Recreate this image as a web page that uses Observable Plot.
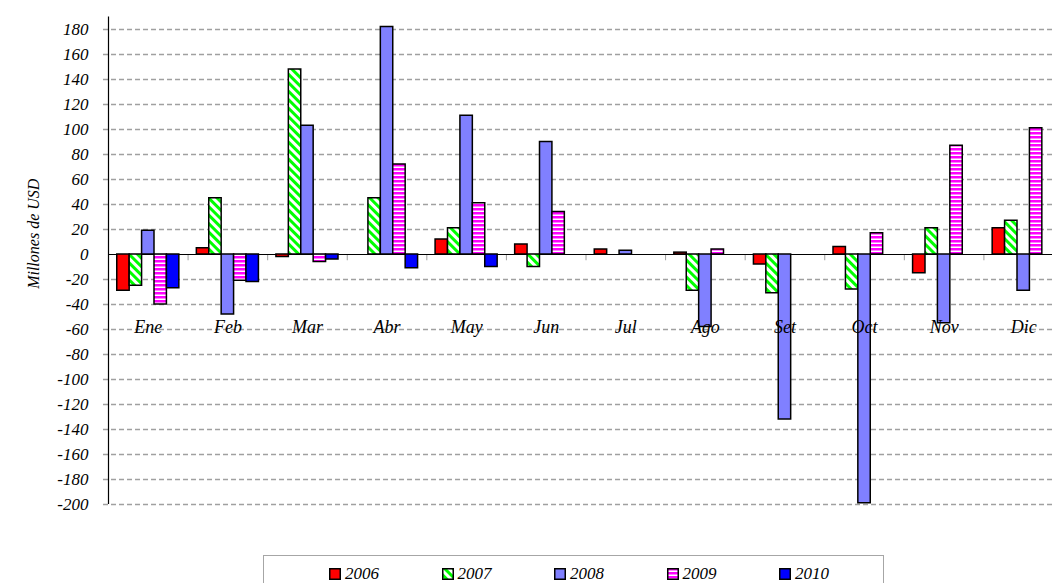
<!DOCTYPE html>
<html>
<head>
<meta charset="utf-8">
<script src="https://cdn.jsdelivr.net/npm/d3@7"></script>
<script src="https://cdn.jsdelivr.net/npm/@observablehq/plot@0.6"></script>
<style>
html, body { margin: 0; padding: 0; background: #fff; overflow: hidden; }
#wrap { position: relative; width: 1052px; height: 583px; overflow: hidden; background: #fff; }
#wrap svg.layer { position: absolute; left: 0; top: 0; }
#legend { position: absolute; left: 263px; top: 555px; width: 621px; height: 40px; border: 1px solid #a6a6a6; background: #fff; box-sizing: border-box; }
.item { position: absolute; top: 11px; height: 14px; font-family: "Liberation Serif", serif; font-style: italic; font-size: 17px; line-height: 14px; white-space: nowrap; }
.item svg { position: absolute; left: 0; top: 1px; }
.item span { position: absolute; left: 16px; top: 0px; }
</style>
</head>
<body>
<svg width="0" height="0" style="position:absolute;left:0;top:0">
  <defs>
    <pattern id="p2007" patternUnits="userSpaceOnUse" width="6" height="6" patternTransform="rotate(-45)">
      <rect width="6" height="6" fill="#ffffff"></rect>
      <rect width="3" height="6" fill="#00ff00"></rect>
    </pattern>
    <pattern id="p2009" patternUnits="userSpaceOnUse" width="4" height="4">
      <rect width="4" height="4" fill="#ffffff"></rect>
      <rect width="4" height="2.5" fill="#ff00ff"></rect>
    </pattern>
  </defs>
</svg>
<div id="wrap"><div id="legend"></div></div>
<script>
// ---- data ----
const months = ["Ene", "Feb", "Mar", "Abr", "May", "Jun", "Jul", "Ago", "Set", "Oct", "Nov", "Dic"];
const years = ["2006", "2007", "2008", "2009", "2010"];
const v2006 = [-29, 5, -2, 0, 12, 8, 4, 1.5, -8, 6, -15, 21];
const v2007 = [-25, 45, 148, 45, 21, -10, null, -29, -31, -28, 21, 27];
const v2008 = [19, -48, 103, 182, 111, 90, 3, -58, -132, -199, -55, -29];
const v2009 = [-40, -21, -6, 72, 41, 34, null, 4, null, 17, 87, 101];
const v2010 = [-27, -22, -4, -11, -10, null, null, null, null, null, null, null];
const yTickLabels = [180, 160, 140, 120, 100, 80, 60, 40, 20, 0, -20, -40, -60, -80, -100, -120, -140, -160, -180, -200];
const yTitle = "Millones de USD";
const fills = ["#ff0000", "url(#p2007)", "#8080ff", "url(#p2009)", "#0000ff"];

const series = [v2006, v2007, v2008, v2009, v2010];
const table = [];
months.forEach((m, mi) => {
  years.forEach((y, yi) => {
    const v = series[yi][mi];
    if (v != null) table.push({month: m, mi, year: y, yi, value: v});
  });
});
const boundaries = months.slice(1).map((m, i) => i + 1);

// ---- layout ----
const W = 1063, H = 530, ML = 108, MR = 0, MT = 16.5, MB = 26;
const groupPad = 0.11;               // gap before the first bar of a month, in month units
const barW = (1 - 2 * groupPad) / years.length; // width of one bar, in month units
const FF = "'Liberation Serif', 'Times New Roman', serif";
const font = {fontFamily: FF, fontStyle: "italic", fontSize: "16px", color: "#000"};

const chart = Plot.plot({
  width: W, height: H, marginLeft: ML, marginRight: MR, marginTop: MT, marginBottom: MB,
  style: {...font, background: "white", maxWidth: "none", overflow: "visible"},
  x: {type: "linear", domain: [0, months.length], axis: null},
  y: {domain: [-200, 190], axis: null},
  color: {domain: years, range: fills},
  marks: [
    Plot.ruleY(yTickLabels.filter(d => d !== 0), {y: d => d, stroke: "#a0a0a0", strokeWidth: 1.6, strokeDasharray: "5,3", insetLeft: -5}),
    Plot.ruleX(boundaries, {x: d => d, y1: 0, y2: -5, stroke: "#a0a0a0", strokeWidth: 1}),
    Plot.ruleY([0], {y: d => d, stroke: "black", strokeWidth: 1.2}),
    Plot.ruleX([0], {x: d => d, stroke: "black", strokeWidth: 1.2}),
    Plot.rectY(table, {
      x1: d => d.mi + groupPad + d.yi * barW,
      x2: d => d.mi + groupPad + (d.yi + 1) * barW,
      y1: 0, y2: "value",
      fill: "year", stroke: "black", strokeWidth: 1.5
    }),
    Plot.text(yTickLabels, {x: 0, y: d => d, text: d => String(d), textAnchor: "end", dx: -20, fontSize: 17, fontFamily: FF, fontStyle: "italic", fill: "black"}),
    Plot.text(months, {x: (d, i) => i + 0.5, y: 0, dy: 73, text: d => d, fontSize: 18, fontFamily: FF, fontStyle: "italic", fill: "black"}),
    Plot.text([yTitle], {frameAnchor: "left", dx: -75, dy: -27, rotate: -90, textAnchor: "middle", text: d => d, fontSize: 16, fontFamily: FF, fontStyle: "italic", fill: "black"})
  ]
});

const wrap = document.getElementById("wrap");
chart.classList.add("layer");
wrap.insertBefore(chart, document.getElementById("legend"));

// ---- legend ----
const legend = document.getElementById("legend");
years.forEach((y, i) => {
  const item = document.createElement("div");
  item.className = "item";
  item.style.left = (65 + i * 112.5) + "px";
  item.innerHTML = `<svg width="12" height="12"><rect x="0.75" y="0.75" width="10.5" height="10.5" fill="${fills[i]}" stroke="black" stroke-width="1.5"></rect></svg><span>${y}</span>`;
  legend.appendChild(item);
});
</script>
</body>
</html>
